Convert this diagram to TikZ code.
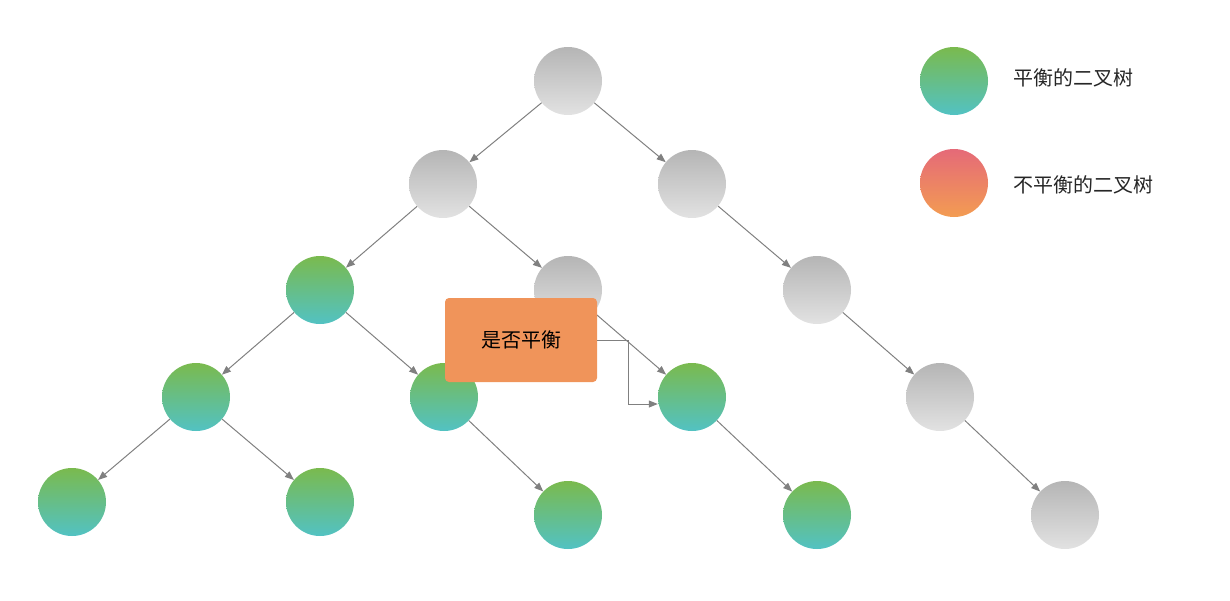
\documentclass[tikz,border=0pt]{standalone}
\usepackage{fontspec}
\newfontfamily\cjk{Noto Sans CJK SC}
\usetikzlibrary{arrows.meta}
\definecolor{gtop}{HTML}{7ABA4E}
\definecolor{gbot}{HTML}{52C2C3}
\definecolor{ytop}{HTML}{B5B5B5}
\definecolor{ybot}{HTML}{E2E2E2}
\definecolor{rtop}{HTML}{E56A78}
\definecolor{rbot}{HTML}{F39C52}
\definecolor{boxc}{HTML}{F0945A}
\definecolor{edgec}{HTML}{808080}
\tikzset{
  nd/.style={circle,minimum size=68pt,inner sep=0pt},
  grn/.style={nd,top color=gtop,bottom color=gbot},
  gry/.style={nd,top color=ytop,bottom color=ybot},
  red/.style={nd,top color=rtop,bottom color=rbot},
  ed/.style={draw=edgec,line width=1pt,-{Triangle[length=9pt,width=7pt]}},
  lbl/.style={font=\cjk\fontsize{20pt}{24pt}\selectfont,anchor=west,text=black!85}
}
\begin{document}
\begin{tikzpicture}[x=1pt,y=-1pt]
\useasboundingbox (0,0) rectangle (1230,600);
\node[gry] (r) at (568,81) {};
\node[gry] (a) at (443,184) {};
\node[gry] (b) at (692,184) {};
\node[grn] (c) at (320,290) {};
\node[gry] (d) at (568,290) {};
\node[gry] (e) at (817,290) {};
\node[grn] (f) at (196,397) {};
\node[grn] (g) at (444,397) {};
\node[grn] (h) at (692,397) {};
\node[gry] (i) at (940,397) {};
\node[grn] (j) at (72,502) {};
\node[grn] (k) at (320,502) {};
\node[grn] (l) at (568,515) {};
\node[grn] (m) at (817,515) {};
\node[gry] (n) at (1065,515) {};
\foreach \u/\v in {r/a,r/b,a/c,a/d,b/e,c/f,c/g,d/h,e/i,f/j,f/k,g/l,h/m,i/n}
  \draw[ed] (\u) -- (\v);
\node[fill=boxc,rounded corners=4pt,minimum width=152pt,minimum height=84pt,font=\cjk\fontsize{20pt}{24pt}\selectfont] (q) at (521,340) {是否平衡};
\coordinate (q1) at (628,340);
\coordinate (q2) at (628,404);
\draw[draw=edgec,line width=1pt,-{Triangle[length=9pt,width=7pt]}] (q.east) -- (q1) -- (q2) -- (h.west |- q2);
\node[grn] (lg) at (954,81) {};
\node[red] (lr) at (954,183) {};
\node[lbl] (tg) at (1010,78) {平衡的二叉树};
\node[lbl] (tr) at (1010,185) {不平衡的二叉树};
\end{tikzpicture}
\end{document}
